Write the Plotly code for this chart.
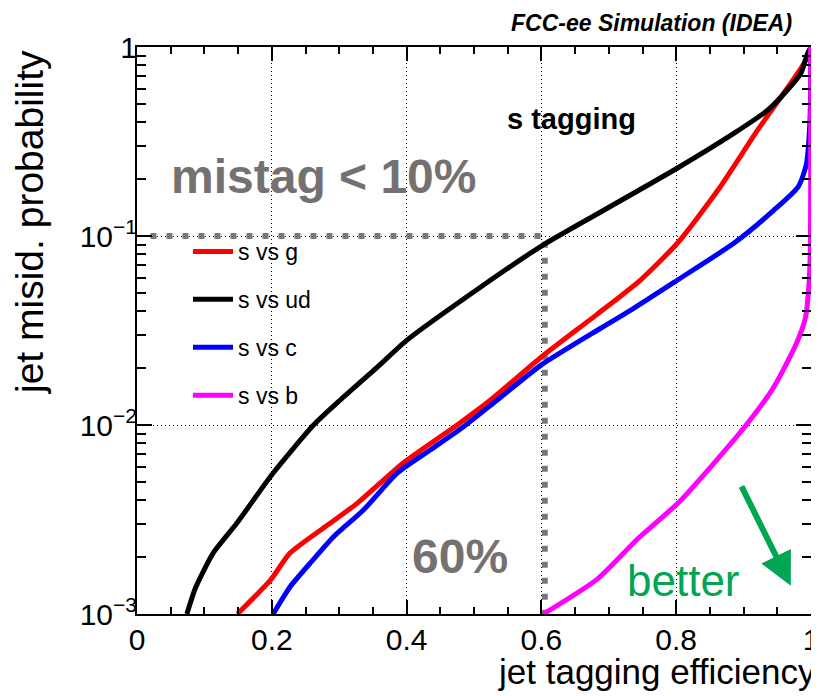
import math
import plotly.graph_objects as go

# ---- data ----
eff_g = [0.149, 0.198, 0.227, 0.287, 0.327, 0.395, 0.475, 0.525, 0.6, 0.683, 0.747, 0.802, 0.862, 0.921, 0.966, 0.99, 1.0]
mis_g = [0.001, 0.00151, 0.0021, 0.00303, 0.00386, 0.0063, 0.01, 0.0136, 0.0229, 0.0386, 0.0585, 0.0918, 0.175, 0.364, 0.614, 0.823, 1.0]

eff_ud = [0.074, 0.087, 0.113, 0.148, 0.202, 0.262, 0.302, 0.357, 0.401, 0.510, 0.6, 0.688, 0.802, 0.886, 0.936, 0.965, 0.985, 0.995, 1.0]
mis_ud = [0.001, 0.00138, 0.0021, 0.00302, 0.00557, 0.01, 0.0136, 0.0203, 0.0282, 0.0537, 0.0885, 0.134, 0.229, 0.35, 0.464, 0.592, 0.726, 0.926, 1.0]

eff_c = [0.202, 0.227, 0.257, 0.291, 0.336, 0.386, 0.435, 0.484, 0.535, 0.6, 0.688, 0.734, 0.802, 0.886, 0.945, 0.981, 0.993, 0.9985, 1.0]
mis_c = [0.001, 0.00139, 0.00186, 0.00255, 0.00355, 0.00557, 0.00738, 0.00976, 0.0136, 0.0208, 0.0325, 0.0408, 0.0585, 0.0918, 0.137, 0.182, 0.238, 0.41, 1.0]

eff_b = [0.603, 0.683, 0.743, 0.804, 0.853, 0.903, 0.944, 0.978, 0.992, 0.997, 0.999, 0.9995, 0.9995]
mis_b = [0.001, 0.00153, 0.0025, 0.0039, 0.0061, 0.0099, 0.0157, 0.0268, 0.0373, 0.0557, 0.0843, 0.2, 1.0]

series_names = ["s vs g", "s vs ud", "s vs c", "s vs b"]
series_colors = ["#ff0000", "#000000", "#0000ff", "#ff00ff"]

working_eff = 0.605
working_mistag = 0.1
ref_eff_start = 0.02

arrow_head = (0.970, 0.00141)

x_tickvals = [0, 0.2, 0.4, 0.6, 0.8, 1]
x_ticktext = ["0", "0.2", "0.4", "0.6", "0.8", "1"]
y_tickvals = [0.001, 0.01, 0.1, 1]
y_ticktext = ["10<sup>\u22123</sup>", "10<sup>\u22122</sup>", "10<sup>\u22121</sup>", "1"]
x_minor = [i * 0.05 for i in range(21)]
y_minor = [m * 10 ** e for e in (-3, -2, -1) for m in range(2, 10)]

FONT = "Liberation Sans, Arial, Helvetica, sans-serif"
GRAY = "#767171"

fig = go.Figure()

# working-point reference lines
fig.add_trace(go.Scatter(
    x=[ref_eff_start, working_eff, working_eff],
    y=[working_mistag, working_mistag, 0.001],
    mode="lines", line=dict(color="#787878", width=6, dash="6px,10px"),
    showlegend=False, hoverinfo="skip"))

for name, col, xs, ys in zip(series_names, series_colors,
                             [eff_g, eff_ud, eff_c, eff_b],
                             [mis_g, mis_ud, mis_c, mis_b]):
    fig.add_trace(go.Scatter(x=xs, y=ys, mode="lines", name=name,
                             legendgroup=name,
                             line=dict(color=col, width=5, shape="spline", smoothing=0.6)))

axis_common = dict(
    showline=True, linecolor="black", linewidth=2, mirror="allticks",
    ticks="inside", tickcolor="black", tickwidth=1.5,
    showgrid=True, gridcolor="black", gridwidth=1, griddash="1px,3px",
    zeroline=False, automargin=False,
    tickfont=dict(family=FONT, size=30, color="black"),
)

fig.update_xaxes(range=[0, 1], tickmode="array", tickvals=x_tickvals, ticktext=x_ticktext,
                 ticklen=14, ticklabelstandoff=-2,
                 minor=dict(tickmode="array", tickvals=x_minor, ticks="inside", ticklen=7,
                            tickcolor="black", tickwidth=1.5, showgrid=False),
                 **axis_common)
fig.update_yaxes(type="log", range=[-3, 0], tickmode="array", tickvals=y_tickvals, ticktext=y_ticktext,
                 ticklen=15, ticklabelstandoff=-8,
                 minor=dict(tickmode="array", tickvals=y_minor, ticks="inside", ticklen=9,
                            tickcolor="black", tickwidth=1.5, showgrid=False),
                 **axis_common)

# page coordinates of the plot frame in the reference (the page body adds 8px)
OFF = 8
W, H = 819, 696
PL, PR, PT, PB = 137, 811, 47, 614
L, T = PL - OFF, PT - OFF
R, B = W - (PR - OFF), H - (PB - OFF)
pw, ph = PR - PL, PB - PT

def px(xp):
    return (xp - PL) / pw

def py(yp):
    return (PB - yp) / ph

annotations = [
    dict(text="<b><i>FCC-ee Simulation (IDEA)</i></b>", x=px(794), y=py(23), xanchor="right",
         yanchor="middle", font=dict(family=FONT, size=23, color="black")),
    dict(text="<b>s tagging</b>", x=px(571), y=py(119), xanchor="center", yanchor="middle",
         font=dict(family=FONT, size=29, color="black")),
    dict(text="<b>mistag < 10%</b>", x=px(169), y=py(176), xanchor="left", yanchor="middle",
         font=dict(family=FONT, size=48, color=GRAY)),
    dict(text="<b>60%</b>", x=px(410), y=py(556), xanchor="left", yanchor="middle",
         font=dict(family=FONT, size=48, color=GRAY)),
    dict(text="better", x=px(625), y=py(580), xanchor="left", yanchor="middle",
         font=dict(family=FONT, size=44, color="#00a651")),
    dict(text="jet tagging efficiency", x=px(818), y=py(671), xanchor="right", yanchor="middle",
         font=dict(family=FONT, size=35, color="black")),
    dict(text="jet misid. probability", textangle=-90, x=px(29), y=py(48), xanchor="center",
         yanchor="top", font=dict(family=FONT, size=39, color="black")),
    dict(text="", x=arrow_head[0], y=math.log10(arrow_head[1]), xref="x", yref="y",
         ax=-50, ay=-101, showarrow=True, arrowhead=2, arrowsize=1.1, arrowwidth=6,
         arrowcolor="#00a651"),
]
for a in annotations:
    a.setdefault("xref", "paper")
    a.setdefault("yref", "paper")
    a.setdefault("showarrow", False)

fig.update_layout(
    width=W, height=H,
    margin=dict(l=L, r=R, t=T, b=B, pad=0, autoexpand=False),
    paper_bgcolor="white", plot_bgcolor="white",
    font=dict(family=FONT, color="black"),
    showlegend=True,
    legend=dict(x=px(188), y=py(230), xanchor="left", yanchor="top",
                bgcolor="rgba(0,0,0,0)", borderwidth=0,
                font=dict(family=FONT, size=23, color="black"),
                tracegroupgap=15, traceorder="grouped", itemwidth=40),
    annotations=annotations,
)

fig.write_html("out.html")
